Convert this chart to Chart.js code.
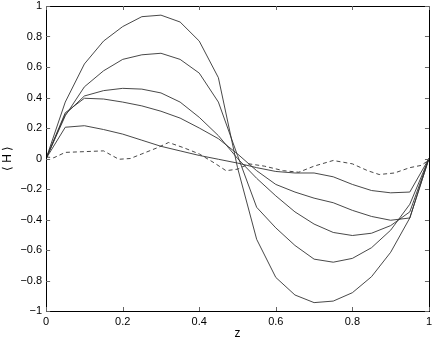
<!DOCTYPE html>
<html>
<head>
<meta charset="utf-8">
<script src="https://cdn.jsdelivr.net/npm/chart.js@4.4.1/dist/chart.umd.min.js"></script>
<style>
  html, body { margin: 0; padding: 0; background: #fff; }
  #wrap { width: 436px; height: 341px; }
</style>
</head>
<body>
<div id="wrap"><canvas id="chart" width="436" height="341"></canvas></div>
<script>
// grid of z for the solid curves
var zGrid = [0, 0.05, 0.1, 0.15, 0.2, 0.25, 0.3, 0.35, 0.4, 0.45, 0.5,
             0.55, 0.6, 0.65, 0.7, 0.75, 0.8, 0.85, 0.9, 0.95, 1];

var hA = [0, 0.37, 0.62, 0.77, 0.865, 0.93, 0.94, 0.895, 0.77, 0.53, -0.06,
          -0.53, -0.78, -0.895, -0.945, -0.935, -0.88, -0.775, -0.615, -0.39, 0];
var hB = [0, 0.28, 0.47, 0.575, 0.65, 0.68, 0.69, 0.65, 0.56, 0.37, 0.02,
          -0.32, -0.455, -0.57, -0.66, -0.68, -0.655, -0.585, -0.47, -0.3, 0];
var hC = [0, 0.29, 0.41, 0.445, 0.46, 0.455, 0.43, 0.37, 0.27, 0.15, 0.0,
          -0.13, -0.245, -0.35, -0.43, -0.485, -0.505, -0.49, -0.44, -0.35, 0];
var hD = [0, 0.3, 0.395, 0.39, 0.37, 0.345, 0.31, 0.265, 0.2, 0.13, 0.03,
          -0.08, -0.17, -0.22, -0.26, -0.29, -0.34, -0.38, -0.405, -0.39, 0];
var hE = [0, 0.205, 0.215, 0.19, 0.16, 0.12, 0.08, 0.05, 0.02, -0.005, -0.03,
          -0.06, -0.085, -0.095, -0.095, -0.12, -0.17, -0.21, -0.225, -0.22, 0];

// dashed curve, read on its own points
var zDash = [0, 0.02, 0.05, 0.1, 0.15, 0.19, 0.22, 0.25, 0.29, 0.32, 0.36, 0.4, 0.44, 0.47,
             0.5, 0.53, 0.57, 0.62, 0.66, 0.7, 0.75, 0.8, 0.84, 0.87, 0.91, 0.95, 0.98, 1];
var hDash = [0.01, 0.005, 0.04, 0.045, 0.05, -0.005, 0.0, 0.03, 0.07, 0.105, 0.07, 0.03, -0.03, -0.08,
             -0.07, -0.035, -0.05, -0.08, -0.09, -0.05, -0.013, -0.035, -0.08, -0.105, -0.095, -0.06, -0.045, -0.01];

var xTicks = [0, 0.2, 0.4, 0.6, 0.8, 1];
var yTicks = [-1, -0.8, -0.6, -0.4, -0.2, 0, 0.2, 0.4, 0.6, 0.8, 1];

function pts(xs, ys) {
  var out = [];
  for (var i = 0; i < xs.length; i++) out.push({ x: xs[i], y: ys[i] });
  return out;
}

function fmt(v) {
  var s = String(Math.round(v * 10) / 10);
  return s.replace('-', '\u2212');
}

var lineColor = '#333';
var solid = [hA, hB, hC, hD, hE];
var datasets = [];
for (var i = 0; i < solid.length; i++) {
  datasets.push({ data: pts(zGrid, solid[i]), borderColor: lineColor, borderWidth: 0.9,
                  pointRadius: 0, tension: 0, fill: false });
}
datasets.push({ data: pts(zDash, hDash), borderColor: lineColor, borderWidth: 0.9,
                borderDash: [4, 3], pointRadius: 0, tension: 0, fill: false });

// box round the plot and small ticks pointing inwards on all four sides
var boxTicks = {
  id: 'boxTicks',
  afterDraw: function (chart) {
    var ctx = chart.ctx, a = chart.chartArea;
    var sx = chart.scales.x, sy = chart.scales.y;
    ctx.save();
    ctx.strokeStyle = '#000';
    ctx.lineWidth = 1;
    ctx.strokeRect(Math.round(a.left) + 0.5, Math.round(a.top) + 0.5,
                   Math.round(a.right - a.left), Math.round(a.bottom - a.top));
    ctx.strokeStyle = '#666';
    ctx.beginPath();
    xTicks.forEach(function (t) {
      var px = Math.round(sx.getPixelForValue(t)) + 0.5;
      ctx.moveTo(px, a.bottom); ctx.lineTo(px, a.bottom - 4);
      ctx.moveTo(px, a.top); ctx.lineTo(px, a.top + 4);
    });
    yTicks.forEach(function (t) {
      var py = Math.round(sy.getPixelForValue(t)) + 0.5;
      ctx.moveTo(a.left, py); ctx.lineTo(a.left + 4, py);
      ctx.moveTo(a.right, py); ctx.lineTo(a.right - 4, py);
    });
    ctx.stroke();
    ctx.restore();
  }
};

var font = { family: 'Liberation Sans, Arial, Helvetica, sans-serif', size: 11 };

new Chart(document.getElementById('chart'), {
  type: 'line',
  data: { datasets: datasets },
  options: {
    responsive: false,
    animation: false,
    layout: { padding: { top: 6, right: 2, left: 0, bottom: 0 } },
    plugins: { legend: { display: false }, tooltip: { enabled: false } },
    scales: {
      x: {
        type: 'linear', min: 0, max: 1,
        afterBuildTicks: function (s) { s.ticks = xTicks.map(function (v) { return { value: v }; }); },
        afterFit: function (s) { s.height = 30; },
        ticks: { font: font, color: '#000', padding: 4, maxRotation: 0, callback: fmt },
        grid: { drawOnChartArea: false, drawTicks: false },
        border: { display: false },
        title: { display: true, text: 'z', font: { family: font.family, size: 12 }, color: '#000', padding: { top: 0, bottom: 0 } }
      },
      y: {
        type: 'linear', min: -1, max: 1,
        afterBuildTicks: function (s) { s.ticks = yTicks.map(function (v) { return { value: v }; }); },
        afterFit: function (s) { s.paddingTop = 0; s.paddingBottom = 0; },
        ticks: { font: font, color: '#000', padding: 4, callback: fmt },
        grid: { drawOnChartArea: false, drawTicks: false },
        border: { display: false },
        title: { display: true, text: '\u27E8 H \u27E9', font: { family: font.family, size: 12 }, color: '#000', padding: { top: 0, bottom: 2 } }
      }
    }
  },
  plugins: [boxTicks]
});
</script>
</body>
</html>
